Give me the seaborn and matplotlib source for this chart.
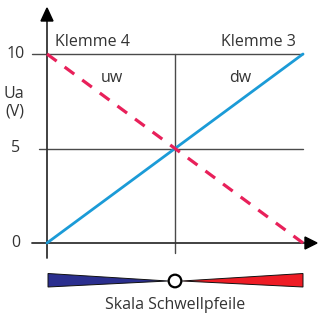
import numpy as np
import pandas as pd
import matplotlib
matplotlib.use('Agg')
import matplotlib.pyplot as plt
import seaborn as sns
from matplotlib.patches import Polygon, Ellipse

# data
stellung = [0, 10]
dw = [0, 10]   # Klemme 3
uw = [10, 0]   # Klemme 4
y_ticks = [0, 5, 10]
y_tick_labels = ['0', '5', '10']

sns.set_theme(style='white')
plt.rcParams['font.family'] = ['Open Sans', 'DejaVu Sans']

df = pd.DataFrame({'x': stellung * 2,
                   'y': dw + uw,
                   'kurve': ['dw'] * 2 + ['uw'] * 2})

fig = plt.figure(figsize=(3.18, 3.19), dpi=100)
ax = fig.add_axes([0, 0, 1, 1])

# pixel -> data helpers (layout only)
sx = 25.6
sy = 18.9
def px(p):
    return (p - 47) / sx
def py(p):
    return (243 - p) / sy

ax.set_xlim(px(0), px(318))
ax.set_ylim(py(319), py(0))
ax.axis('off')

dark = '#333333'
grid = '#4a4a4a'

# grid lines
ax.plot([px(32), px(303)], [10, 10], color=grid, lw=1.0, zorder=1)
ax.plot([px(39), px(303)], [5, 5], color=grid, lw=1.0, zorder=1)
ax.plot([5, 5], [10, py(253)], color=grid, lw=1.0, zorder=1)

# axes with arrows
ax.plot([px(32), px(308)], [0, 0], color=dark, lw=1.3, zorder=2)
ax.plot([0, 0], [py(258), py(18)], color=dark, lw=1.3, zorder=2)
ax.add_patch(Polygon([[px(317), 0], [px(305), py(237)], [px(305), py(249)]],
                     closed=True, color='black', zorder=3))
ax.add_patch(Polygon([[0, py(8)], [px(41), py(21)], [px(53), py(21)]],
                     closed=True, color='black', zorder=3))

# lines
sns.lineplot(data=df[df.kurve == 'dw'], x='x', y='y', ax=ax, color='#1b9bd7',
             lw=2.0, zorder=4, legend=False)
sns.lineplot(data=df[df.kurve == 'uw'], x='x', y='y', ax=ax, color='#e8205a',
             lw=2.3, zorder=5, legend=False, dashes=False)
ax.lines[-1].set_dashes([3.75, 3.1])

# tick labels
for v, lab in zip(y_ticks, y_tick_labels):
    ax.text(px(16), v, lab, ha='center', va='center', fontsize=11.5, color=dark)
ax.text(px(14), py(94), 'Ua', ha='center', va='center', fontsize=11.5, color=dark)
ax.text(px(15), py(112), '(V)', ha='center', va='center', fontsize=11.5, color=dark)

ax.text(px(55), py(42), 'Klemme 4', ha='left', va='center', fontsize=11.5, color=dark)
ax.text(px(296), py(42), 'Klemme 3', ha='right', va='center', fontsize=11.5, color=dark)
ax.text(px(112), py(78), 'uw', ha='center', va='center', fontsize=11.5, color=dark)
ax.text(px(240), py(78), 'dw', ha='center', va='center', fontsize=11.5, color=dark)

# Schwellpfeile
ax.add_patch(Polygon([[px(48), py(273.5)], [px(48), py(287)], [px(168), py(281)]],
                     closed=True, facecolor='#2b2f8f', edgecolor='#111111', lw=0.7, zorder=3))
ax.add_patch(Polygon([[px(303), py(273.5)], [px(303), py(287)], [px(182), py(281)]],
                     closed=True, facecolor='#ee1c25', edgecolor='#111111', lw=0.7, zorder=3))
r = 6.3
ax.add_patch(Ellipse((px(175), py(281)), 2 * r / sx, 2 * r / sy, facecolor='white',
                     edgecolor='black', lw=1.6, zorder=4))
ax.text(px(175), py(305), 'Skala Schwellpfeile', ha='center', va='center',
        fontsize=11.5, color=dark)

fig.savefig('out.png', dpi=100)
